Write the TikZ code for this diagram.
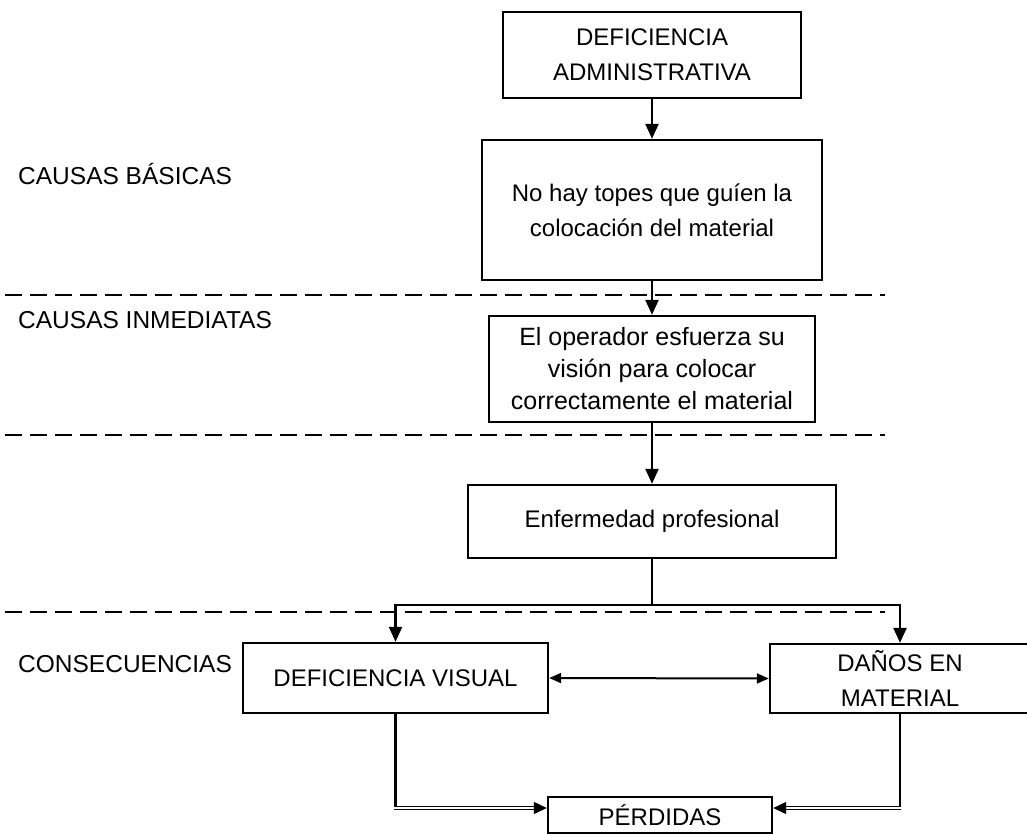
\documentclass[tikz,border=0pt]{standalone}
\usepackage{fontspec}
\setmainfont{Liberation Sans}
\usetikzlibrary{arrows.meta}
\begin{document}
\begin{tikzpicture}[x=1pt,y=-1pt,
  box/.style={draw,line width=2.4pt,rectangle,align=center,inner sep=0pt,
    font=\fontsize{24}{35}\selectfont},
  lbl/.style={anchor=west,inner sep=0pt,font=\fontsize{24.5}{28}\selectfont},
  ln/.style={line width=2.4pt},
  arr/.style={line width=2.4pt,-{Triangle[length=15pt,width=13pt]}},
  twoway/.style={line width=2pt,{Triangle[length=12pt,width=10pt]}-{Triangle[length=12pt,width=10pt]}},
  dbl/.style={double,double distance=1.4pt,line width=1.2pt,-{Triangle[length=13pt,width=12pt]}},
  sep/.style={line width=2.4pt,dash pattern=on 17pt off 8pt}]
\useasboundingbox (0,0) rectangle (1027,834);
\clip (0,0) rectangle (1027,834);

% level separators
\draw[sep] (5,295) -- (885,295);
\draw[sep] (5,435) -- (885,435);
\draw[sep] (5,612) -- (885,612);

% level labels
\node[lbl] (lb1) at (18,174) {CAUSAS BÁSICAS};
\node[lbl] (lb2) at (18,320) {CAUSAS INMEDIATAS};
\node[lbl] (lb3) at (18,664) {CONSECUENCIAS};

% chain of causes
\node[box,minimum width=298pt,minimum height=86pt] (b1) at (652,55)
  {DEFICIENCIA\\ADMINISTRATIVA};
\node[box,minimum width=340pt,minimum height=140pt] (b2) at (652,210)
  {No hay topes que guíen la\\colocación del material};
\node[box,minimum width=326pt,minimum height=106pt,
  font=\fontsize{25}{32}\selectfont] (b3) at (652,369)
  {El operador esfuerza su\\visión para colocar\\correctamente el material};
\node[box,minimum width=368pt,minimum height=73pt] (b4) at (652,521.5)
  {Enfermedad profesional};

% consequences
\node[box,minimum width=305pt,minimum height=70pt] (dv) at (395.5,678)
  {DEFICIENCIA VISUAL};
\node[box,minimum width=260pt,minimum height=69pt] (dm) at (900,678.5)
  {DAÑOS EN\\MATERIAL};
\node[box,minimum width=224pt,minimum height=36pt] (perd) at (660,815)
  {PÉRDIDAS};

\coordinate (split) at (652,605);

\draw[arr] (b1.south) -- (b2.north);
\draw[arr] (b2.south) -- (b3.north);
\draw[arr] (b3.south) -- (b4.north);
\draw[ln] (b4.south) -- (split);
\draw[arr] (split) -| (dv.north);
\draw[arr] (split) -| (dm.north);
\draw[twoway] (dv.east) -- (dm.west);

% paths to losses
\coordinate (pl) at ([yshift=7pt]perd.west);
\coordinate (pr) at ([yshift=7pt]perd.east);
\draw[ln] (dv.south) -- (dv.south |- pl);
\draw[dbl] ([xshift=-1.2pt]dv.south |- pl) -- (pl);
\draw[ln] (dm.south) -- (dm.south |- pr);
\draw[dbl] ([xshift=1.2pt]dm.south |- pr) -- (pr);
\end{tikzpicture}
\end{document}
